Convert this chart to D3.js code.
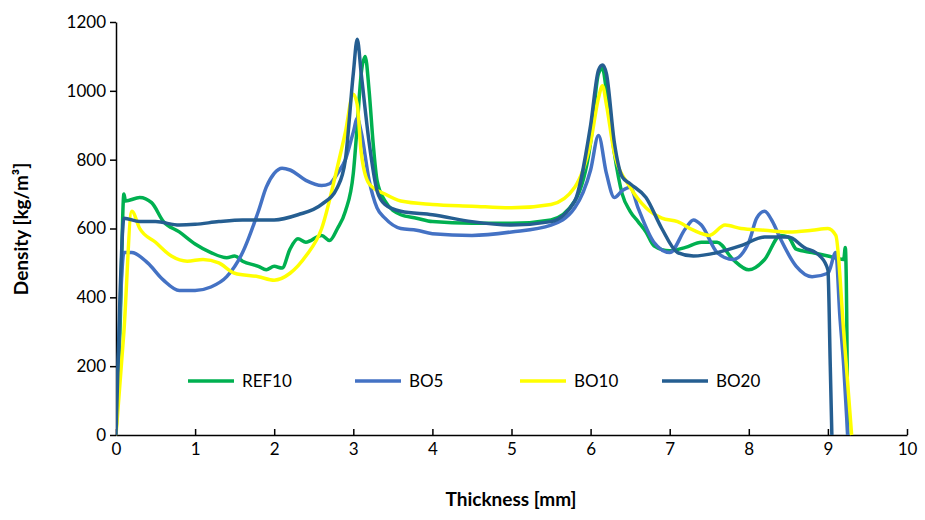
<!DOCTYPE html><html><head><meta charset="utf-8"><script src="https://cdn.jsdelivr.net/npm/d3@7"></script>
<style>body{margin:0;background:#fff}text{font-family:Lato,"Open Sans",sans-serif}</style></head><body><svg width="925" height="520"></svg><script>
const seriesNames=["REF10","BO5","BO10","BO20"];
const colors=["#00B050","#4472C4","#FFFF00","#255E91"];
const REF10=[[0,0],[0.05,300],[0.1,700],[0.12,680],[0.3,690],[0.45,675],[0.6,620],[0.8,590],[1.0,555],[1.2,530],[1.4,515],[1.5,520],[1.6,505],[1.8,490],[1.9,480],[2.0,490],[2.1,485],[2.2,540],[2.3,570],[2.4,560],[2.6,580],[2.7,565],[2.8,600],[2.9,650],[3.0,760],[3.05,900],[3.1,1050],[3.15,1100],[3.2,1000],[3.25,850],[3.3,740],[3.4,680],[3.6,640],[3.8,630],[4.0,620],[4.5,615],[5.0,615],[5.5,625],[5.8,680],[6.0,850],[6.1,1050],[6.15,1065],[6.2,1000],[6.3,820],[6.4,700],[6.5,650],[6.6,620],[6.7,590],[6.8,550],[7.0,535],[7.2,545],[7.4,560],[7.6,560],[7.8,510],[8.0,480],[8.2,510],[8.4,580],[8.5,575],[8.6,540],[8.8,530],[9.0,520],[9.2,510],[9.22,545],[9.24,300],[9.25,0]];
const BO5=[[0,0],[0.05,350],[0.1,530],[0.2,530],[0.4,500],[0.6,450],[0.8,420],[1.0,420],[1.2,430],[1.4,460],[1.6,530],[1.8,650],[1.9,720],[2.0,760],[2.1,775],[2.2,770],[2.4,740],[2.6,725],[2.7,730],[2.8,760],[2.9,800],[3.0,880],[3.05,920],[3.1,880],[3.2,740],[3.3,660],[3.4,630],[3.6,600],[3.8,595],[4.0,585],[4.5,580],[5.0,590],[5.5,610],[5.8,660],[6.0,770],[6.1,870],[6.2,760],[6.3,690],[6.4,710],[6.5,720],[6.6,660],[6.8,560],[7.0,530],[7.2,600],[7.3,625],[7.4,610],[7.6,530],[7.8,510],[8.0,560],[8.1,630],[8.2,650],[8.3,620],[8.4,570],[8.6,490],[8.8,460],[9.0,470],[9.1,530],[9.15,350],[9.2,200],[9.25,0]];
const BO10=[[0,0],[0.1,300],[0.2,650],[0.3,600],[0.5,560],[0.7,520],[0.9,505],[1.1,510],[1.3,500],[1.5,470],[1.8,460],[2.0,450],[2.2,470],[2.4,520],[2.6,600],[2.8,780],[2.9,880],[3.0,990],[3.05,960],[3.1,820],[3.2,730],[3.4,700],[3.6,680],[4.0,670],[4.5,665],[5.0,660],[5.5,670],[5.8,720],[6.0,850],[6.1,980],[6.15,1015],[6.2,960],[6.3,820],[6.5,720],[6.7,660],[6.9,630],[7.1,620],[7.3,595],[7.5,580],[7.7,610],[7.9,600],[8.2,595],[8.5,590],[8.8,595],[9.0,600],[9.1,580],[9.2,300],[9.3,0]];
const BO20=[[0,0],[0.05,400],[0.1,630],[0.3,620],[0.5,620],[0.8,610],[1.0,612],[1.3,620],[1.6,625],[2.0,625],[2.3,640],[2.6,670],[2.8,720],[2.9,800],[3.0,1050],[3.05,1150],[3.1,1050],[3.2,850],[3.3,710],[3.4,670],[3.6,650],[4.0,640],[4.5,620],[5.0,610],[5.5,620],[5.8,680],[6.0,900],[6.1,1060],[6.15,1075],[6.2,1050],[6.3,850],[6.4,750],[6.5,730],[6.7,690],[6.9,600],[7.1,530],[7.3,520],[7.6,530],[7.9,550],[8.2,575],[8.5,575],[8.7,545],[8.9,520],[9.0,480],[9.03,200],[9.05,0]];
const xTicks=[0,1,2,3,4,5,6,7,8,9,10];
const yTicks=[0,200,400,600,800,1000,1200];
const data=[REF10,BO5,BO10,BO20];
const svg=d3.select("svg");
const x=d3.scaleLinear().domain([0,10]).range([116,907]);
const y=d3.scaleLinear().domain([0,1200]).range([435,22]);
const xa=svg.append("g").attr("transform","translate(0,435)").call(d3.axisBottom(x).tickValues(xTicks).tickFormat(d3.format("d")).tickSize(-6).tickSizeOuter(0));
const ya=svg.append("g").attr("transform","translate(116,0)").call(d3.axisLeft(y).tickValues(yTicks).tickFormat(d3.format("d")).tickSize(6).tickSizeOuter(0));
[xa,ya].forEach(a=>{a.selectAll("path,line").attr("stroke","#000").attr("stroke-width",1.5);a.selectAll("text").attr("font-size",17).attr("fill","#000");});
xa.selectAll("text").attr("y",8).attr("dy","0.71em");
ya.selectAll("text").attr("x",-10);
svg.append("clipPath").attr("id","c").append("rect").attr("x",116).attr("y",0).attr("width",791).attr("height",436);
const line=d3.line().x(d=>x(d[0])).y(d=>y(d[1])).curve(d3.curveMonotoneX);
data.forEach((s,i)=>svg.append("path").attr("clip-path","url(#c)").attr("d",line(s)).attr("fill","none").attr("stroke",colors[i]).attr("stroke-width",3.5).attr("stroke-linejoin","round"));
const lx=[188,355,520,662];
seriesNames.forEach((n,i)=>{svg.append("line").attr("x1",lx[i]).attr("x2",lx[i]+46).attr("y1",381).attr("y2",381).attr("stroke",colors[i]).attr("stroke-width",3.5);
svg.append("text").attr("x",lx[i]+54).attr("y",387).attr("font-size",17).text(n);});
svg.append("text").attr("x",511).attr("y",506).attr("text-anchor","middle").attr("font-size",19).attr("font-weight","bold").text("Thickness [mm]");
svg.append("text").attr("transform","translate(28,229) rotate(-90)").attr("text-anchor","middle").attr("font-size",19).attr("font-weight","bold").text("Density [kg/m³]");
</script></body></html>
